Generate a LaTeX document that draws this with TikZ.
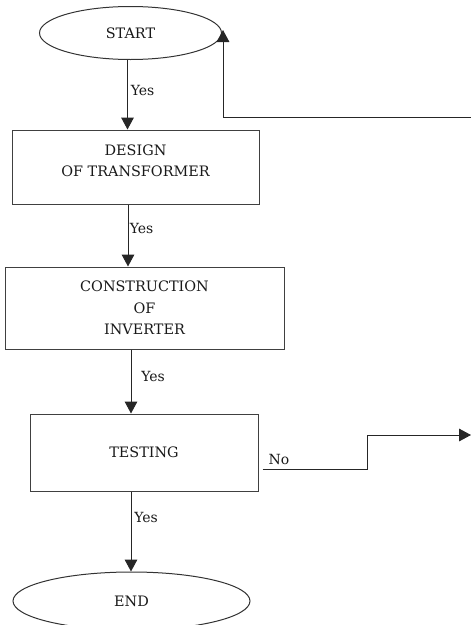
\documentclass[tikz,border=0pt]{standalone}
\usepackage{fontspec}
\setmainfont{DejaVu Serif}
\usetikzlibrary{arrows.meta,shapes.geometric}
\begin{document}
\begin{tikzpicture}[x=0.75pt,y=-0.75pt,
  txt/.style={font=\fontsize{10.8}{16}\selectfont, text=black!90, align=center, inner sep=0pt},
  term/.style={draw=black!80, line width=0.75pt, ellipse, inner sep=0pt},
  procbox/.style={draw=black!75, line width=0.75pt, rectangle, inner sep=0pt},
  arr/.style={draw=black!85, line width=0.75pt, -{Triangle[width=9.5pt,length=9pt]}},
  lbl/.style={font=\fontsize{10.5}{12}\selectfont, text=black!90, inner sep=0pt}]
\useasboundingbox (0,0) rectangle (471,625);
% nodes
\node[term, minimum width=136.5pt, minimum height=39.75pt, txt] (start) at (130.5,33) {START};
\node[procbox, minimum width=185.25pt, minimum height=55.5pt] (design) at (135.5,167) {};
\node[txt] (designtxt) at (135.5,160.5) {DESIGN\\OF TRANSFORMER};
\node[procbox, minimum width=209.25pt, minimum height=61.5pt, txt] (constr) at (144.5,308) {CONSTRUCTION\\OF\\INVERTER};
\node[procbox, minimum width=171pt, minimum height=57.75pt, txt] (test) at (144,452.5) {TESTING};
\node[term, minimum width=177.75pt, minimum height=43.5pt, txt] (end) at (131.5,601) {END};
% coordinates for free ends
\coordinate (noend) at (471,435);
\coordinate (backstart) at (471,117);
% connectors
\draw[arr] ([xshift=-2.25pt]start.south) -- ([xshift=-2.25pt]start.south |- design.north);
\draw[arr] (design.south -| 128,0) -- (constr.north -| 128,0);
\draw[arr] (constr.south -| 131,0) -- (test.north -| 131,0);
\draw[arr] (test.south -| 131,0) -- (end.north -| 131,0);
\draw[arr] ([xshift=3pt]test.east |- 0,469) -- (367,469) -- (367,435) -- (noend);
\draw[arr] (backstart) -- (223,117) -- (223,30);
% labels
\node[lbl] (y1) at (142.5,90) {Yes};
\node[lbl] (y2) at (141.5,228) {Yes};
\node[lbl] (y3) at (153,376) {Yes};
\node[lbl] (y4) at (146,517) {Yes};
\node[lbl] (no) at (279,459) {No};
\end{tikzpicture}
\end{document}
